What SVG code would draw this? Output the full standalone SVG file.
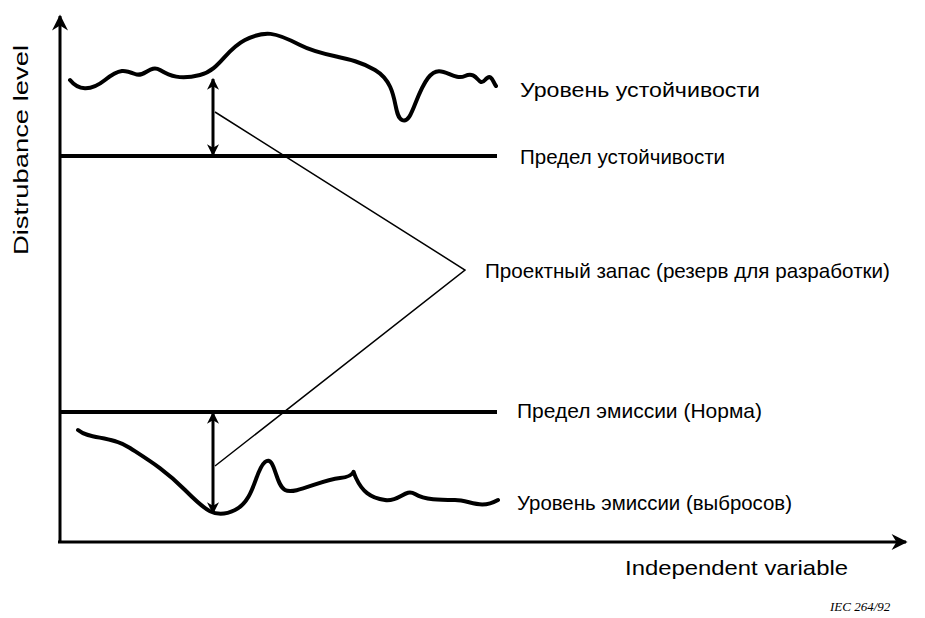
<svg xmlns="http://www.w3.org/2000/svg" width="925" height="618" viewBox="0 0 925 618">
<defs>
<marker id="ah" viewBox="0 0 10 10" refX="9" refY="5" markerWidth="14" markerHeight="12" orient="auto-start-reverse" markerUnits="userSpaceOnUse"><path d="M0,0 L10,5 L0,10 L3,5 z" fill="#000"/></marker>
<marker id="ax" viewBox="0 0 10 10" refX="9" refY="5" markerWidth="22" markerHeight="16" orient="auto" markerUnits="userSpaceOnUse"><path d="M0,0 L10,5 L0,10 L3,5 z" fill="#000"/></marker>
<style>
.t{font-family:"Liberation Sans",Arial,sans-serif;font-size:21px;fill:#000}
.c{fill:none;stroke:#000;stroke-width:4;stroke-linejoin:round;stroke-linecap:round}
.h{stroke:#000;stroke-width:4}
.thin{stroke:#000;stroke-width:1.5;fill:none}
</style>
</defs>
<rect width="925" height="618" fill="#fff"/>
<g id="axes">
<line x1="60" y1="542" x2="60" y2="16" stroke="#000" stroke-width="3" marker-end="url(#ax)"/>
<line x1="58" y1="542" x2="906" y2="542" stroke="#000" stroke-width="3" marker-end="url(#ax)"/>
<text class="t" transform="translate(28,255) rotate(-90)" font-size="19" textLength="210" lengthAdjust="spacingAndGlyphs">Distrubance level</text>
<text class="t" x="625" y="575" font-size="20" textLength="223" lengthAdjust="spacingAndGlyphs">Independent variable</text>
</g>
<g id="immunity-level"><path class="c" d="M70,80 C78,90 90,92 105,80 S125,70 135,74 S150,64 160,70 S180,80 200,75 S225,50 245,40 S275,32 300,45 S350,55 375,70 S392,115 402,120 S415,95 428,78 S452,82 465,76 S478,88 485,80 S493,83 496,86"/><text class="t" x="520" y="97" textLength="240" lengthAdjust="spacingAndGlyphs">Уровень устойчивости</text></g>
<g id="immunity-limit"><line class="h" x1="60" y1="156" x2="497" y2="156"/><text class="t" x="520" y="164" textLength="205" lengthAdjust="spacingAndGlyphs">Предел устойчивости</text></g>
<g id="emission-limit"><line class="h" x1="60" y1="412" x2="497" y2="412"/><text class="t" x="517" y="418" textLength="245" lengthAdjust="spacingAndGlyphs">Предел эмиссии (Норма)</text></g>
<g id="emission-level"><path class="c" d="M78,430 C90,440 110,435 130,448 S165,470 185,490 S215,520 235,510 S255,470 265,462 S275,485 285,490 S320,480 340,478 S350,465 356,478 S370,498 385,500 S405,488 415,494 S440,500 455,500 S480,510 498,500"/><text class="t" x="517" y="510" textLength="275" lengthAdjust="spacingAndGlyphs">Уровень эмиссии (выбросов)</text></g>
<g id="margin"><text class="t" x="485" y="278" textLength="405" lengthAdjust="spacingAndGlyphs">Проектный запас (резерв для разработки)</text></g>
<g id="connectors">
<line x1="213" y1="79" x2="213" y2="155" stroke="#000" stroke-width="3" marker-start="url(#ah)" marker-end="url(#ah)"/>
<line x1="213" y1="413" x2="213" y2="513" stroke="#000" stroke-width="3" marker-start="url(#ah)" marker-end="url(#ah)"/>
<polyline class="thin" points="215,112 465,270 215,466"/>
</g>
<text x="830" y="611" font-family="Liberation Serif,serif" font-style="italic" font-size="13">IEC   264/92</text>
</svg>
